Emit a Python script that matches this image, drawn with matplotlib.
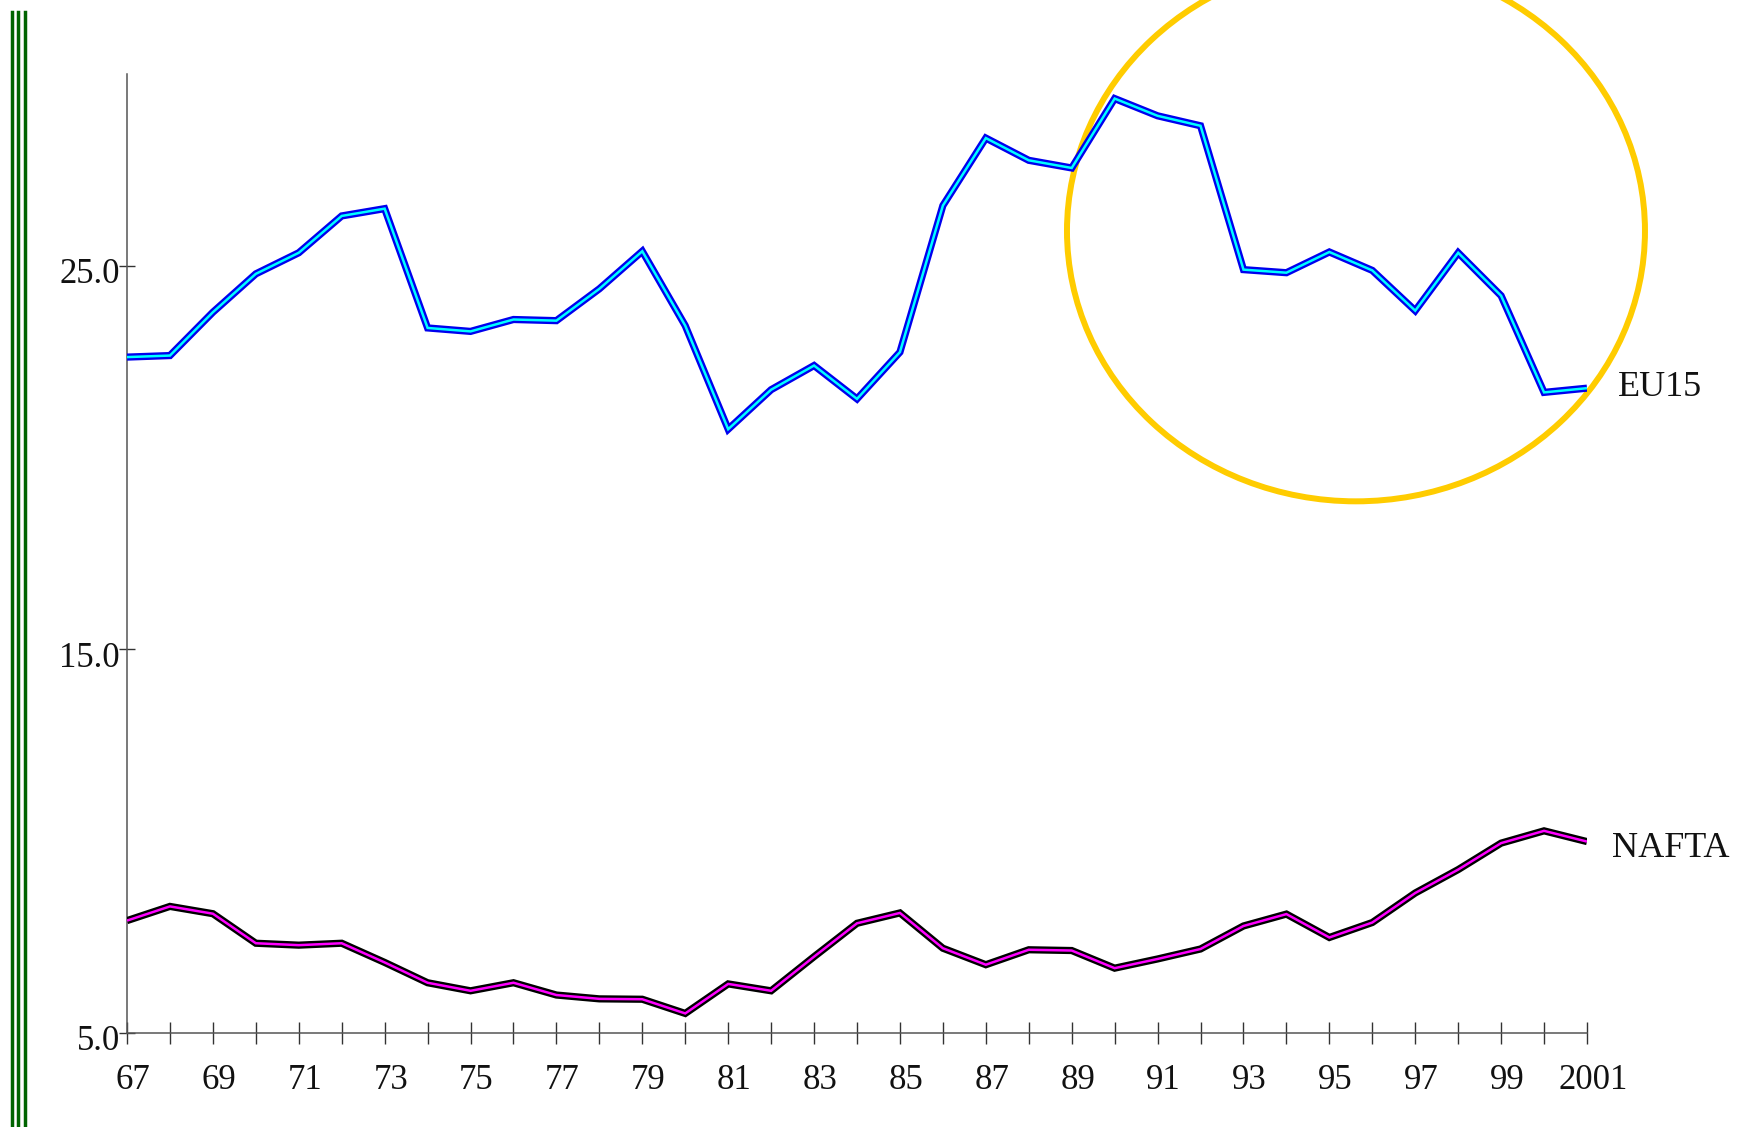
import matplotlib
matplotlib.use("Agg")
import matplotlib.pyplot as plt
from matplotlib.patches import Ellipse
from matplotlib.lines import Line2D
from matplotlib.transforms import ScaledTranslation

# ---- data ----
years = list(range(1967, 2002))
eu15 = [22.62, 22.66, 23.79, 24.79, 25.34, 26.30, 26.49, 23.38, 23.29, 23.60,
        23.57, 24.40, 25.38, 23.44, 20.74, 21.77, 22.40, 21.53, 22.75, 26.57,
        28.33, 27.75, 27.55, 29.36, 28.91, 28.65, 24.90, 24.82, 25.36, 24.88,
        23.83, 25.34, 24.22, 21.70, 21.81]
nafta = [7.93, 8.30, 8.11, 7.34, 7.29, 7.34, 6.84, 6.31, 6.10, 6.31,
         5.99, 5.89, 5.88, 5.51, 6.28, 6.10, 6.99, 7.86, 8.13, 7.21,
         6.78, 7.17, 7.15, 6.69, 6.93, 7.19, 7.79, 8.10, 7.49, 7.88,
         8.65, 9.26, 9.95, 10.27, 9.99]
series_names = ["EU15", "NAFTA"]
xtick_years = list(range(1967, 2002, 2))
xtick_labels = ["67", "69", "71", "73", "75", "77", "79", "81", "83", "85",
                "87", "89", "91", "93", "95", "97", "99", "2001"]
ytick_values = [5.0, 15.0, 25.0]
ytick_labels = ["5.0", "15.0", "25.0"]

FONT = "Liberation Serif"
FS = 25

fig = plt.figure(figsize=(17.4, 11.27), dpi=100)
fig.patch.set_facecolor("white")
ax = fig.add_axes([127/1740, 1 - 1033/1127, 1460/1740, (1033 - 74)/1127])
ax.set_facecolor("white")

# highlight ellipse
ell = Ellipse((95.62 + 1900, 25.91), 13.46, 14.1, fill=False,
              edgecolor="#ffcc00", lw=4.3, clip_on=False, zorder=1)
ax.add_patch(ell)

# double lines
ax.plot(years, eu15, color="#0000ee", lw=5.2, solid_joinstyle="miter",
        solid_capstyle="butt", zorder=3)
ax.plot(years, eu15, color="#00ffff", lw=1.8, solid_joinstyle="miter",
        solid_capstyle="butt", zorder=4)
ax.plot(years, nafta, color="#000000", lw=5.2, solid_joinstyle="miter",
        solid_capstyle="butt", zorder=3)
ax.plot(years, nafta, color="#ff00ff", lw=1.8, solid_joinstyle="miter",
        solid_capstyle="butt", zorder=4)

ax.annotate(series_names[0], (years[-1], eu15[-1]), xytext=(31, -8),
            textcoords="offset pixels", ha="left", va="baseline",
            fontsize=26, family=FONT, color="#111111", annotation_clip=False)
ax.annotate(series_names[1], (years[-1], nafta[-1]), xytext=(25, -15),
            textcoords="offset pixels", ha="left", va="baseline",
            fontsize=26, family=FONT, color="#111111", annotation_clip=False)

ax.set_xlim(1967, 2001)
ax.set_ylim(5, 30)

for s in ["top", "right"]:
    ax.spines[s].set_visible(False)
for s in ["left", "bottom"]:
    ax.spines[s].set_color("#555555")
    ax.spines[s].set_linewidth(1.1)

ax.set_xticks(years, minor=False)
ax.set_xticklabels([xtick_labels[xtick_years.index(y)] if y in xtick_years else "" for y in years],
                   family=FONT, fontsize=FS)
ax.set_yticks(ytick_values)
ax.set_yticklabels(ytick_labels, family=FONT, fontsize=FS)
ax.tick_params(axis="x", direction="inout", length=16, width=1.0,
               color="#333333", pad=14, labelcolor="#111111")
ax.tick_params(axis="y", direction="inout", length=12, width=1.0,
               color="#333333", pad=0.5, labelcolor="#111111")

for lab in ax.get_yticklabels():
    lab.set_transform(lab.get_transform() + ScaledTranslation(2/100, -5/100, fig.dpi_scale_trans))
for lab in ax.get_xticklabels():
    lab.set_transform(lab.get_transform() + ScaledTranslation(6/100, 0, fig.dpi_scale_trans))

# triple green rule at the left edge
for xp in [12.5, 18.5, 24.8]:
    fig.add_artist(Line2D([xp/1740, xp/1740], [0, 1 - 12/1127],
                          transform=fig.transFigure, color="#006400", lw=2.5))

fig.savefig("out.png", dpi=100, facecolor="white")
